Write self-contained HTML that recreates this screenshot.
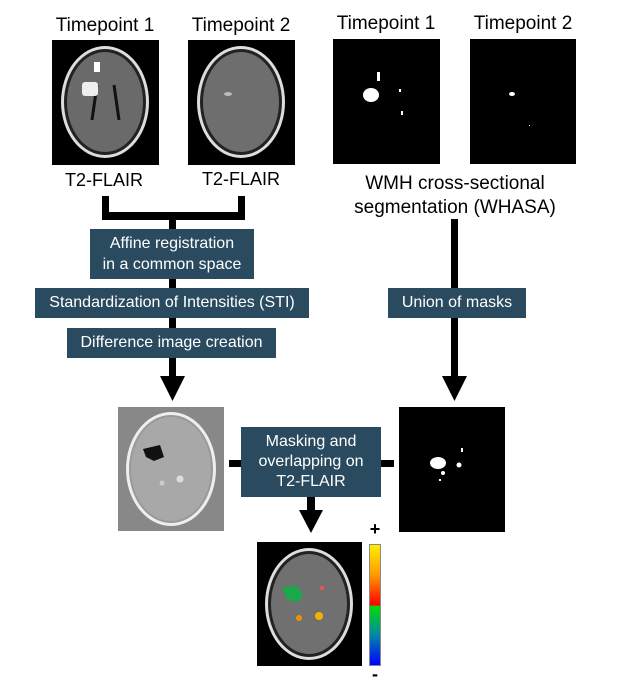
<!DOCTYPE html>
<html><head><meta charset="utf-8"><style>
body{margin:0;width:626px;height:686px;background:#fff;position:relative;overflow:hidden;font-family:"Liberation Sans",Arial,sans-serif}
.a{position:absolute}
.t{position:absolute;font-size:19px;color:#000;text-align:center;white-space:nowrap}
.b{position:absolute;background:#294a5f;color:#fff;font-size:16px;text-align:center;display:flex;align-items:center;justify-content:center;line-height:24px;white-space:nowrap}
.k{position:absolute;background:#000}
</style></head><body>
<div class="t" style="left:45px;top:15px;width:120px">Timepoint 1</div>
<div class="t" style="left:181px;top:15px;width:120px">Timepoint 2</div>
<div class="t" style="left:326px;top:13px;width:120px">Timepoint 1</div>
<div class="t" style="left:463px;top:13px;width:120px">Timepoint 2</div>

<svg class="a" style="left:52px;top:40px" width="107" height="125"><rect width="107" height="125" fill="#000"/><ellipse cx="53" cy="62" rx="44" ry="56" fill="#ddd"/><ellipse cx="53" cy="62" rx="41" ry="53" fill="#222"/><ellipse cx="53" cy="62" rx="38" ry="50" fill="#6a6a6a"/><path d="M45 45 L40 80 M62 45 L67 80" stroke="#111" stroke-width="3"/><rect x="30" y="42" width="16" height="14" fill="#eee" rx="3"/><rect x="42" y="22" width="6" height="10" fill="#fff"/></svg>
<svg class="a" style="left:188px;top:40px" width="107" height="125"><rect width="107" height="125" fill="#000"/><ellipse cx="53" cy="62" rx="44" ry="56" fill="#ddd"/><ellipse cx="53" cy="62" rx="41" ry="53" fill="#222"/><ellipse cx="53" cy="62" rx="38" ry="50" fill="#6e6e6e"/><ellipse cx="40" cy="54" rx="4" ry="2" fill="#bbb"/></svg>
<svg class="a" style="left:333px;top:39px" width="107" height="125"><rect width="107" height="125" fill="#000"/><ellipse cx="38" cy="56" rx="8" ry="7" fill="#fff"/><rect x="44" y="33" width="3" height="9" fill="#fff"/><rect x="66" y="50" width="2" height="3" fill="#fff"/><rect x="68" y="72" width="2" height="4" fill="#fff"/></svg>
<svg class="a" style="left:470px;top:39px" width="106" height="125"><rect width="106" height="125" fill="#000"/><ellipse cx="42" cy="55" rx="3" ry="2" fill="#fff"/><rect x="59" y="86" width="1" height="1" fill="#fff"/></svg>

<div class="t" style="left:54px;top:170px;width:100px;font-size:18px">T2-FLAIR</div>
<div class="t" style="left:191px;top:169px;width:100px;font-size:18px">T2-FLAIR</div>
<div class="t" style="left:335px;top:172px;width:240px;line-height:24px">WMH cross-sectional<br>segmentation (WHASA)</div>

<div class="k" style="left:102px;top:196px;width:7px;height:24px"></div>
<div class="k" style="left:238px;top:196px;width:7px;height:24px"></div>
<div class="k" style="left:102px;top:212px;width:143px;height:8px"></div>
<div class="k" style="left:169px;top:220px;width:7px;height:158px"></div>
<div class="k" style="left:451px;top:219px;width:7px;height:159px"></div>
<svg class="a" style="left:160px;top:376px" width="25" height="25"><polygon points="0,0 25,0 12.5,25" fill="#000"/></svg>
<svg class="a" style="left:442px;top:376px" width="25" height="25"><polygon points="0,0 25,0 12.5,25" fill="#000"/></svg>

<div class="b" style="left:90px;top:229px;width:164px;height:50px;line-height:21px">Affine registration<br>in a common space</div>
<div class="b" style="left:35px;top:288px;width:274px;height:30px">Standardization of Intensities (STI)</div>
<div class="b" style="left:67px;top:328px;width:209px;height:30px">Difference image creation</div>
<div class="b" style="left:388px;top:288px;width:138px;height:30px">Union of masks</div>

<svg class="a" style="left:118px;top:407px" width="106" height="124"><rect width="106" height="124" fill="#888"/><ellipse cx="53" cy="62" rx="45" ry="57" fill="#eee"/><ellipse cx="53" cy="62" rx="42" ry="54" fill="#999"/><ellipse cx="53" cy="62" rx="40" ry="52" fill="#a8a8a8"/><path d="M25 42 L42 38 L46 50 L36 54 L28 50 Z" fill="#111"/><circle cx="62" cy="72" r="3.5" fill="#ddd"/><circle cx="44" cy="76" r="2.5" fill="#ccc"/></svg>
<svg class="a" style="left:399px;top:407px" width="106" height="125"><rect width="106" height="125" fill="#000"/><ellipse cx="39" cy="56" rx="8" ry="6" fill="#fff"/><circle cx="60" cy="58" r="2.5" fill="#fff"/><circle cx="44" cy="66" r="2" fill="#fff"/><rect x="62" y="41" width="2" height="4" fill="#fff"/><rect x="40" y="72" width="2" height="2" fill="#fff"/></svg>

<div class="k" style="left:229px;top:460px;width:14px;height:7px"></div>
<div class="k" style="left:379px;top:460px;width:15px;height:7px"></div>
<div class="b" style="left:241px;top:427px;width:140px;height:70px;font-size:16px;line-height:20px">Masking and<br>overlapping on<br>T2-FLAIR</div>
<div class="k" style="left:307px;top:497px;width:8px;height:14px"></div>
<svg class="a" style="left:299px;top:510px" width="24" height="23"><polygon points="0,0 24,0 12,23" fill="#000"/></svg>

<svg class="a" style="left:257px;top:542px" width="105" height="124"><rect width="105" height="124" fill="#000"/><ellipse cx="52" cy="62" rx="44" ry="56" fill="#ddd"/><ellipse cx="52" cy="62" rx="41" ry="53" fill="#222"/><ellipse cx="52" cy="62" rx="38" ry="50" fill="#707070"/><path d="M25 45 L40 44 L46 52 L42 60 L30 58 Z" fill="#1aa84a"/><circle cx="62" cy="74" r="4" fill="#f5b000"/><circle cx="42" cy="76" r="3" fill="#f09000"/><circle cx="65" cy="46" r="2" fill="#e55"/></svg>
<div class="a" style="left:369px;top:544px;width:12px;height:122px;border:1px solid #888;box-sizing:border-box;background:linear-gradient(#ffee00,#ff9900 25%,#ff0000 50%,#00dd00 51%,#0088aa 75%,#0000ff)"></div>
<div class="t" style="left:365px;top:519px;width:20px;font-weight:bold;font-size:18px">+</div>
<div class="t" style="left:365px;top:664px;width:20px;font-weight:bold;font-size:18px">-</div>
</body></html>
